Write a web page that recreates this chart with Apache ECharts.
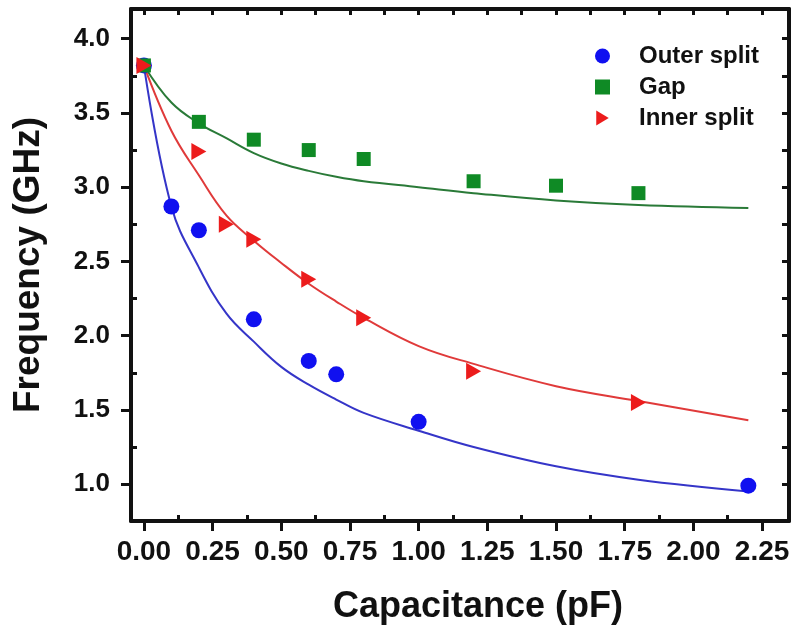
<!DOCTYPE html>
<html>
<head>
<meta charset="utf-8">
<script src="https://cdn.jsdelivr.net/npm/echarts@6/dist/echarts.min.js"></script>
<style>
  html, body { margin: 0; padding: 0; background: #fff; }
  #chart { width: 796px; height: 631px; }
</style>
</head>
<body>
<div id="chart"></div>
<script>
// measured points
var outerC = [0, 0.1, 0.2, 0.4, 0.6, 0.7, 1.0, 2.2];
var outerF = [3.82, 2.87, 2.71, 2.11, 1.83, 1.74, 1.42, 0.99];
var gapC = [0, 0.2, 0.4, 0.6, 0.8, 1.2, 1.5, 1.8];
var gapF = [3.82, 3.44, 3.32, 3.25, 3.19, 3.04, 3.01, 2.96];
var innerC = [0, 0.2, 0.3, 0.4, 0.6, 0.8, 1.2, 1.8];
var innerF = [3.82, 3.24, 2.75, 2.65, 2.38, 2.12, 1.76, 1.55];

// fitted curves
var fitC = [0, 0.1, 0.2, 0.3, 0.4, 0.5, 0.6, 0.7, 0.8, 1.0, 1.2, 1.5, 1.8, 2.2];
var outerFit = [3.82, 2.87, 2.46, 2.15, 1.96, 1.79, 1.67, 1.57, 1.48, 1.36, 1.25, 1.12, 1.03, 0.95];
var innerFit = [3.82, 3.38, 3.08, 2.81, 2.64, 2.49, 2.35, 2.23, 2.12, 1.93, 1.81, 1.66, 1.56, 1.43];
var gapFit = [3.82, 3.57, 3.43, 3.33, 3.23, 3.16, 3.11, 3.07, 3.04, 3.0, 2.96, 2.91, 2.88, 2.86];

// tick positions
var xMajor = [0, 0.25, 0.5, 0.75, 1.0, 1.25, 1.5, 1.75, 2.0, 2.25];
var xMinor = [0.125, 0.375, 0.625, 0.875, 1.125, 1.375, 1.625, 1.875, 2.125];
var yMajor = [1.0, 1.5, 2.0, 2.5, 3.0, 3.5, 4.0];
var yMinor = [1.25, 1.75, 2.25, 2.75, 3.25, 3.75];

function pairs(xs, ys) {
  return xs.map(function (x, i) { return [x, ys[i]]; });
}

var triRight = 'path://M0,0 L10,6 L0,12 Z';
var font = 'Liberation Sans, Arial, sans-serif';
var XMIN = -0.047, XMAX = 2.348, YMIN = 0.752, YMAX = 4.2;

var chart = echarts.init(document.getElementById('chart'));

var lineW = 4;
function baseX(extra) {
  return Object.assign({
    type: 'value', min: XMIN, max: XMAX, gridIndex: 0,
    splitLine: { show: false },
    axisLine: { show: false, onZero: false },
    axisTick: { show: false },
    axisLabel: { show: false }
  }, extra);
}
function baseY(extra) {
  return Object.assign({
    type: 'value', min: YMIN, max: YMAX, gridIndex: 0,
    splitLine: { show: false },
    axisLine: { show: false, onZero: false },
    axisTick: { show: false },
    axisLabel: { show: false }
  }, extra);
}

var option = {
  animation: false,
  backgroundColor: '#fff',
  grid: { left: 131, right: 7, top: 9, bottom: 110, containLabel: false },
  legend: {
    left: 590, top: 36, orient: 'vertical', itemGap: 1,
    itemWidth: 15, itemHeight: 15,
    textStyle: { fontFamily: font, fontWeight: 'bold', fontSize: 24, lineHeight: 30, color: '#111', padding: [0, 0, 0, 24] },
    data: [
      { name: 'Outer split' },
      { name: 'Gap', itemStyle: { color: '#0f8a25' }, icon: 'rect' },
      { name: 'Inner split' }
    ]
  },
  xAxis: [
    baseX({
      position: 'bottom',
      name: 'Capacitance (pF)', nameLocation: 'middle', nameGap: 68,
      nameTextStyle: { fontFamily: font, fontWeight: 'bold', fontSize: 36, color: '#111', padding: [0, 0, 0, 36] },
      axisLine: { show: true, onZero: false, lineStyle: { color: '#111', width: lineW } },
      axisTick: { show: true, inside: false, length: 10, customValues: xMajor, lineStyle: { color: '#111', width: 3 } },
      axisLabel: { show: true, margin: 17, customValues: xMajor, fontFamily: font, fontWeight: 'bold', fontSize: 28, color: '#111',
        formatter: function (v) { return v.toFixed(2); } }
    }),
    baseX({
      position: 'bottom',
      axisTick: { show: true, inside: true, length: 6, customValues: xMinor, lineStyle: { color: '#111', width: 3 } }
    }),
    baseX({
      position: 'top',
      axisLine: { show: true, onZero: false, lineStyle: { color: '#111', width: lineW } },
      axisTick: { show: true, inside: true, length: 6, customValues: xMajor.concat(xMinor), lineStyle: { color: '#111', width: 3 } }
    })
  ],
  yAxis: [
    baseY({
      position: 'left',
      name: 'Frequency (GHz)', nameLocation: 'middle', nameGap: 84,
      nameTextStyle: { fontFamily: font, fontWeight: 'bold', fontSize: 37, color: '#111' },
      axisLine: { show: true, onZero: false, lineStyle: { color: '#111', width: lineW } },
      axisTick: { show: true, inside: false, length: 10, customValues: yMajor, lineStyle: { color: '#111', width: 3 } },
      axisLabel: { show: true, margin: 21, customValues: yMajor, fontFamily: font, fontWeight: 'bold', fontSize: 26, color: '#111',
        formatter: function (v) { return v.toFixed(1); } }
    }),
    baseY({
      position: 'left',
      axisTick: { show: true, inside: true, length: 6, customValues: yMinor, lineStyle: { color: '#111', width: 3 } }
    }),
    baseY({
      position: 'right',
      axisLine: { show: true, onZero: false, lineStyle: { color: '#111', width: lineW } },
      axisTick: { show: true, inside: true, length: 7, customValues: yMajor.concat(yMinor), lineStyle: { color: '#111', width: 3 } }
    })
  ],
  series: [
    { type: 'line', smooth: 0.4, showSymbol: false, data: pairs(fitC, outerFit), lineStyle: { color: '#3535c8', width: 2 }, z: 2 },
    { type: 'line', smooth: 0.4, showSymbol: false, data: pairs(fitC, gapFit), lineStyle: { color: '#2a7a38', width: 2 }, z: 2 },
    { type: 'line', smooth: 0.4, showSymbol: false, data: pairs(fitC, innerFit), lineStyle: { color: '#e03a3a', width: 2 }, z: 2 },
    { name: 'Outer split', type: 'scatter', symbol: 'circle', symbolSize: 16, data: pairs(outerC, outerF), itemStyle: { color: '#1010f0', opacity: 1 }, z: 3 },
    { name: 'Gap', type: 'scatter', symbol: 'rect', symbolSize: 14, data: pairs(gapC, gapF), itemStyle: { color: '#0f8a25', opacity: 1 }, z: 3 },
    { name: 'Inner split', type: 'scatter', symbol: triRight, symbolSize: [15, 17], data: pairs(innerC, innerF), itemStyle: { color: '#ec1c1c', opacity: 1 }, z: 4 }
  ]
};

chart.setOption(option);
</script>
</body>
</html>
